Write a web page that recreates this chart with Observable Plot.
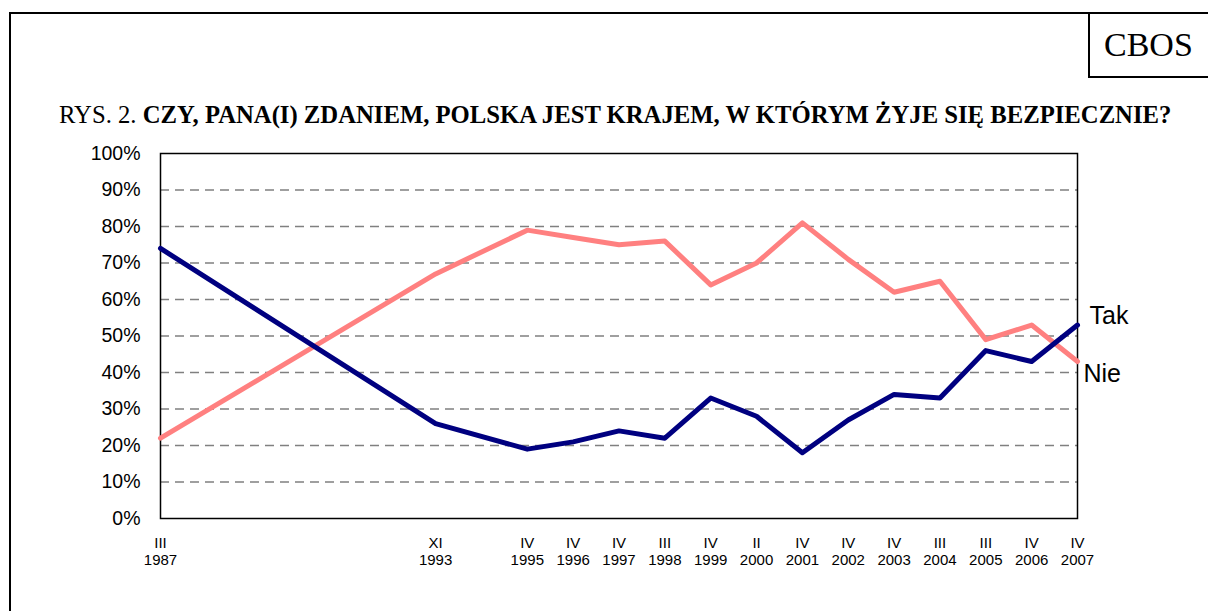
<!DOCTYPE html>
<html>
<head>
<meta charset="utf-8">
<script src="https://cdn.jsdelivr.net/npm/d3@7"></script>
<script src="https://cdn.jsdelivr.net/npm/@observablehq/plot@0.6"></script>
<style>
  html, body { margin: 0; padding: 0; background: #fff; }
  #wrap { position: relative; width: 1208px; height: 611px; overflow: hidden; background: #fff; }
  #frameTop { position: absolute; left: 9px; top: 12px; width: 1199px; height: 2px; background: #000; }
  #frameLeft { position: absolute; left: 9px; top: 12px; width: 2px; height: 599px; background: #000; }
  #cbos { position: absolute; left: 1088px; top: 12px; width: 130px; height: 64px; border-left: 2px solid #000; border-bottom: 2px solid #000;
          font-family: "Liberation Serif", "Times New Roman", serif; font-size: 34px; line-height: 66px; padding-left: 14px; box-sizing: content-box; }
  #title { position: absolute; left: 59px; top: 101px; white-space: nowrap;
           font-family: "Liberation Serif", "Times New Roman", serif; font-size: 24.7px; }
  #title b { font-weight: bold; }
  #chart { position: absolute; left: 0; top: 140px; }
</style>
</head>
<body>
<div id="wrap">
  <div id="frameTop"></div>
  <div id="frameLeft"></div>
  <div id="cbos">CBOS</div>
  <div id="title">RYS. 2. <b>CZY, PANA(I) ZDANIEM, POLSKA JEST KRAJEM, W KTÓRYM ŻYJE SIĘ BEZPIECZNIE?</b></div>
  <div id="chart"></div>
</div>
<script>
const years  = [1987, 1993, 1995, 1996, 1997, 1998, 1999, 2000, 2001, 2002, 2003, 2004, 2005, 2006, 2007];
const months = ["III", "XI", "IV", "IV", "IV", "III", "IV", "II", "IV", "IV", "IV", "III", "III", "IV", "IV"];
const tak    = [74, 26, 19, 21, 24, 22, 33, 28, 18, 27, 34, 33, 46, 43, 53];
const nie    = [22, 67, 79, 77, 75, 76, 64, 70, 81, 71, 62, 65, 49, 53, 43];
const yTicks = [0, 10, 20, 30, 40, 50, 60, 70, 80, 90, 100];
const gridTicks = [10, 20, 30, 40, 50, 60, 70, 80, 90];

const takData = years.map((y, i) => ({year: y, value: tak[i]}));
const nieData = years.map((y, i) => ({year: y, value: nie[i]}));
const monthOf = new Map(years.map((y, i) => [y, months[i]]));

const chart = Plot.plot({
  width: 1208,
  height: 471,
  marginLeft: 160,
  marginRight: 131,
  marginTop: 13,
  marginBottom: 93,
  style: {fontFamily: "Arial, 'Liberation Sans', sans-serif", background: "transparent"},
  x: {type: "linear", domain: [1987, 2007], label: null},
  y: {domain: [0, 100], label: null},
  marks: [
    Plot.gridY(gridTicks, {stroke: "#808080", strokeOpacity: 1, strokeWidth: 1.3, strokeDasharray: "9,6"}),
    Plot.frame({stroke: "#000", strokeWidth: 1.5}),
    Plot.axisY(yTicks, {tickSize: 0, tickPadding: 20, fontSize: 19.5, tickFormat: d => d + "%", fill: "#000", label: null}),
    Plot.axisX(years, {tickSize: 0, tickPadding: 17, fontSize: 15, lineHeight: 1.15, fill: "#000", label: null,
      tickFormat: d => monthOf.get(d) + "\n" + d}),
    Plot.line(nieData, {x: "year", y: "value", stroke: "#FF8080", strokeWidth: 5}),
    Plot.line(takData, {x: "year", y: "value", stroke: "#000080", strokeWidth: 5}),
    Plot.text([takData[takData.length - 1]], {x: "year", y: "value", text: () => "Tak", textAnchor: "start", dx: 12, dy: -9, fontSize: 25, fill: "#000"}),
    Plot.text([nieData[nieData.length - 1]], {x: "year", y: "value", text: () => "Nie", textAnchor: "start", dx: 6, dy: 12, fontSize: 25, fill: "#000"})
  ]
});
document.getElementById("chart").appendChild(chart);
</script>
</body>
</html>
